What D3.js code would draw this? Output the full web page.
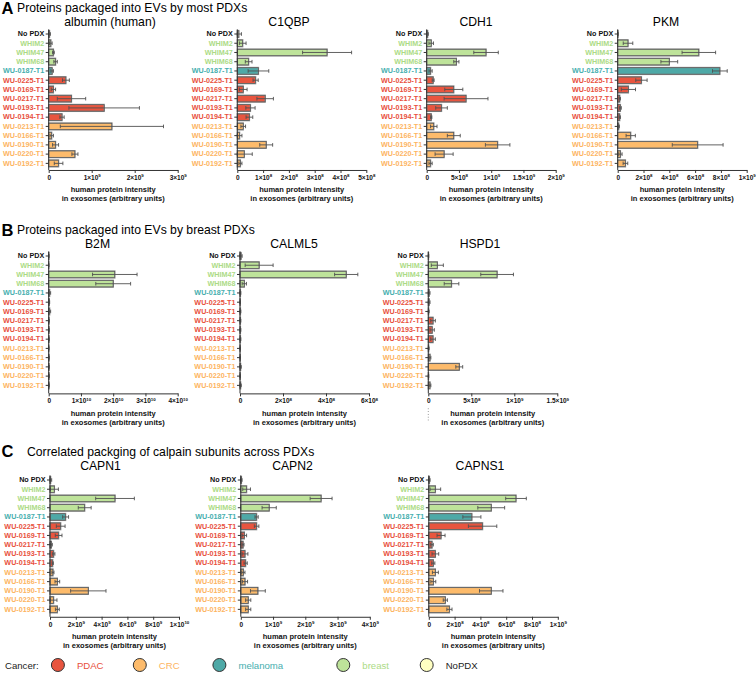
<!DOCTYPE html>
<html><head><meta charset="utf-8">
<script src="https://cdn.jsdelivr.net/npm/d3@7"></script>
<style>body{margin:0;background:#fff} svg{display:block;font-family:Arial,"Liberation Sans",sans-serif}</style>
</head><body><svg id="c" width="756" height="675"></svg>
<script>
// ---------- data ----------
const categories = ["No PDX","WHIM2","WHIM47","WHIM68","WU-0187-T1","WU-0225-T1","WU-0169-T1","WU-0217-T1","WU-0193-T1","WU-0194-T1","WU-0213-T1","WU-0166-T1","WU-0190-T1","WU-0220-T1","WU-0192-T1"];
const categoryCancer = ["NoPDX","breast","breast","breast","melanoma","PDAC","PDAC","PDAC","PDAC","PDAC","CRC","CRC","CRC","CRC","CRC"];
const cancerTypes = ["PDAC","CRC","melanoma","breast","NoPDX"];
const proteinNames = ["albumin (human)","C1QBP","CDH1","PKM","B2M","CALML5","HSPD1","CAPN1","CAPN2","CAPNS1"];
const valueUnit = [1e9,1e8,1e9,1e8,1e10,1e8,1e9,1e9,1e9,1e8];   // values below are in these units
const axisMax   = [3,5,2,10,4,6,1.5,10,4,10];
const tickStep  = [1,1,0.5,2,1,2,0.5,2,1,2];
const sectionTitles = ["Proteins packaged into EVs by most PDXs","Proteins packaged into EVs by breast PDXs","Correlated packging of calpain subunits across PDXs"];
const sectionLetters = ["A","B","C"];
const xAxisLabel = ["human protein intensity","in exosomes (arbitrary units)"];

const albuminMean = [0.02,0.05,0.11,0.16,0.08,0.40,0.11,0.53,1.29,0.31,1.47,0.07,0.16,0.61,0.23];
const albuminSD   = [0.02,0.03,0.02,0.04,0.03,0.08,0.05,0.33,0.82,0.05,1.2,0.04,0.07,0.07,0.1];
const c1qbpMean = [0.06,0.21,3.48,0.44,0.82,0.71,0.23,1.08,0.51,0.47,0.23,0.09,1.12,0.27,0.12];
const c1qbpSD   = [0.1,0.13,0.95,0.13,0.4,0.1,0.15,0.32,0.18,0.13,0.09,0.09,0.25,0.31,0.06];
const cdh1Mean = [0.015,0.07,0.92,0.46,0.06,0.10,0.42,0.61,0.23,0.07,0.11,0.42,1.10,0.27,0.06];
const cdh1SD   = [0.01,0.035,0.19,0.04,0.025,0.015,0.14,0.34,0.09,0.01,0.05,0.10,0.19,0.14,0.025];
const pkmMean = [0.02,0.8,6.29,4.0,7.92,1.84,0.83,0.16,0.21,0.16,0.08,1.01,6.2,0.21,0.6];
const pkmSD   = [0.02,0.37,1.3,0.65,0.57,0.44,0.55,0.05,0.07,0.05,0.05,0.36,1.97,0.13,0.18];
const b2mMean = [0.005,0.003,2.05,2.0,0.03,0.02,0.03,0.01,0.01,0.01,0.005,0.01,0.01,0.01,0.01];
const b2mSD   = [0.005,0.003,0.69,0.54,0.03,0.01,0.03,0.005,0.005,0.005,0.003,0.005,0.005,0.01,0.005];
const calml5Mean = [0.05,0.89,4.94,0.2,0.02,0.01,0.02,0.02,0.02,0.02,0.01,0.01,0.03,0.01,0.03];
const calml5SD   = [0.05,0.65,0.54,0.1,0.02,0.01,0.02,0.02,0.02,0.02,0.01,0.01,0.03,0.01,0.03];
const hspd1Mean = [0.003,0.105,0.8,0.27,0.01,0.01,0.005,0.055,0.045,0.055,0.005,0.02,0.36,0.003,0.02];
const hspd1SD   = [0.003,0.07,0.19,0.085,0.01,0.01,0.005,0.027,0.025,0.027,0.005,0.01,0.04,0.003,0.01];
const capn1Mean = [0.05,0.34,5.04,2.69,1.21,0.83,0.67,0.10,0.28,0.21,0.23,0.57,2.97,0.28,0.57];
const capn1SD   = [0.08,0.31,1.5,0.5,0.23,0.34,0.26,0.08,0.1,0.05,0.08,0.18,1.37,0.26,0.15];
const capn2Mean = [0.02,0.18,2.49,0.88,0.49,0.49,0.11,0.07,0.13,0.15,0.08,0.13,0.53,0.23,0.23];
const capn2SD   = [0.02,0.12,0.34,0.22,0.05,0.07,0.07,0.03,0.09,0.05,0.05,0.08,0.23,0.08,0.08];
const capns1Mean = [0.05,0.51,6.76,4.84,3.34,4.17,0.95,0.25,0.51,0.35,0.51,0.35,4.84,1.28,1.6];
const capns1SD   = [0.05,0.41,0.8,1.04,0.7,1.1,0.31,0.1,0.26,0.12,0.23,0.19,0.91,0.16,0.2];

const meanSeries = [albuminMean,c1qbpMean,cdh1Mean,pkmMean,b2mMean,calml5Mean,hspd1Mean,capn1Mean,capn2Mean,capns1Mean];
const sdSeries   = [albuminSD,c1qbpSD,cdh1SD,pkmSD,b2mSD,calml5SD,hspd1SD,capn1SD,capn2SD,capns1SD];

// ---------- styling / layout ----------
const fillColor  = {PDAC:"#E8553F", CRC:"#FDBB6B", melanoma:"#4EA9A7", breast:"#BEE39A", NoPDX:"#FFFFC2"};
const labelColor = {PDAC:"#E8503C", CRC:"#FDB45F", melanoma:"#45AEAE", breast:"#ACDB85", NoPDX:"#111"};
const panelX0    = [48.7,237.3,426.7,617.7, 48.7,240,428.3, 50,240.8,428.8];
const panelRow   = [0,0,0,0, 1,1,1, 2,2,2];
const panelTitleX= [110,289,476,666, 97.5,294,480, 100.5,292.5,480];
const rowFirstY  = [34,256,480];
const rowAxisGap = [2,3.4,2.8];
const rowSectionY= [12,234,455.5];
const rowLetterY = [13.5,235.5,457];
const rowSectionX= [17,17,27];
const rowSubY    = [25.5,248,470];
const axisLen = 129, rowStep = 9.24;

const svg = d3.select("#c");
const fmtMant = m => (Math.round(m*10)/10).toString();

// section titles
sectionLetters.forEach((L,i)=>{
  svg.append("text").attr("x",1.5).attr("y",rowLetterY[i]).attr("font-size",16.5).attr("font-weight","bold").text(L);
  svg.append("text").attr("x",rowSectionX[i]).attr("y",rowSectionY[i]).attr("font-size",12.2).text(sectionTitles[i]);
});

proteinNames.forEach((name,p)=>{
  const r = panelRow[p], x0 = panelX0[p];
  const top = rowFirstY[r] - rowStep/2;
  const y = d3.scaleBand().domain(categories).range([top, top + categories.length*rowStep]).paddingInner(0.25).paddingOuter(0.125);
  const axisY = top + categories.length*rowStep + rowAxisGap[r];
  const x = d3.scaleLinear().domain([0, axisMax[p]]).range([x0, x0+axisLen]);
  const g = svg.append("g");
  const data = categories.map((c,i)=>({c, cancer:categoryCancer[i], m:meanSeries[p][i], sd:sdSeries[p][i]}));

  // subtitle
  g.append("text").attr("x",panelTitleX[p]).attr("y",rowSubY[r]).attr("text-anchor","middle").attr("font-size",12.2).text(name);

  // bars
  g.selectAll("rect.bar").data(data).join("rect").attr("class","bar")
    .attr("x", x(0)).attr("y", d=>y(d.c)).attr("height", y.bandwidth())
    .attr("width", d=>Math.max(0, x(d.m)-x(0)))
    .attr("fill", d=>fillColor[d.cancer]).attr("stroke","#8a8a8a").attr("stroke-width",1.3);
  g.selectAll("rect.bar2").data(data).join("rect").attr("class","bar2")
    .attr("x", x(0)).attr("y", d=>y(d.c)+0.3).attr("height", y.bandwidth()-0.6)
    .attr("width", d=>Math.max(0, x(d.m)-x(0)))
    .attr("fill","none").attr("stroke","#4a4a4a").attr("stroke-width",0.5);

  // error bars
  const eb = g.selectAll("g.eb").data(data).join("g").attr("class","eb")
    .attr("stroke","#505050").attr("stroke-width",0.9);
  const cy = d=>y(d.c)+y.bandwidth()/2;
  const lo = d=>x(Math.max(0,d.m-d.sd)), hi = d=>x(d.m+d.sd);
  eb.append("line").attr("x1",lo).attr("x2",hi).attr("y1",cy).attr("y2",cy);
  eb.append("line").attr("x1",hi).attr("x2",hi).attr("y1",d=>cy(d)-1.8).attr("y2",d=>cy(d)+1.8);
  eb.append("line").attr("x1",lo).attr("x2",lo).attr("y1",d=>cy(d)-1.8).attr("y2",d=>cy(d)+1.8);

  // y axis
  const ya = g.append("g").attr("transform",`translate(${x0},0)`)
    .call(d3.axisLeft(y).tickSize(3).tickPadding(1.5).tickSizeOuter(0));
  ya.select(".domain").remove();
  ya.append("line").attr("x1",0).attr("x2",0).attr("y1",top).attr("y2",axisY).attr("stroke","#333").attr("stroke-width",1);
  ya.selectAll(".tick line").attr("stroke","#333");
  ya.selectAll(".tick text").attr("font-size",7.2).attr("font-weight","bold").attr("font-family","Arial, 'Liberation Sans', sans-serif")
    .attr("fill",(d,i)=>labelColor[categoryCancer[i]]);

  // x axis
  const ticks = d3.range(0, axisMax[p]+1e-9, tickStep[p]);
  const xa = g.append("g").attr("transform",`translate(0,${axisY})`)
    .call(d3.axisBottom(x).tickValues(ticks).tickSize(3).tickSizeOuter(0).tickPadding(2.5));
  xa.select(".domain").attr("stroke","#333");
  xa.selectAll(".tick line").attr("stroke","#333");
  xa.selectAll(".tick text").each(function(t){
    const el = d3.select(this).text(null).attr("font-size",6.5).attr("font-weight","bold")
      .attr("font-family","Arial, 'Liberation Sans', sans-serif").attr("fill","#111");
    if (t===0){ el.text("0"); return; }
    const v = t*valueUnit[p];
    const e = Math.floor(Math.log10(v)+1e-9);
    const m = v/Math.pow(10,e);
    el.append("tspan").text(fmtMant(m)+"×10");
    el.append("tspan").attr("font-size",4.4).attr("dy",-2.6).text(e);
  });

  // x axis label
  xAxisLabel.forEach((t,k)=>{
    g.append("text").attr("x",x0+axisLen/2).attr("y",axisY+22.5+k*8.8).attr("text-anchor","middle")
      .attr("font-size",7.5).attr("font-weight","bold").attr("fill","#111").text(t);
  });

  if (name==="HSPD1"){
    g.append("line").attr("x1",x0).attr("x2",x0).attr("y1",axisY+15).attr("y2",axisY+28)
      .attr("stroke","#666").attr("stroke-width",0.8).attr("stroke-dasharray","0.8,2");
  }
});

// legend
const legendCircleX = [57.9,139.8,219.4,343.3,426.7];
const legY = 665;
svg.append("text").attr("x",5).attr("y",legY+3.5).attr("font-size",9.6).attr("fill","#222").text("Cancer:");
cancerTypes.forEach((c,i)=>{
  svg.append("circle").attr("cx",legendCircleX[i]).attr("cy",legY).attr("r",6.5)
    .attr("fill",fillColor[c]).attr("stroke","#333").attr("stroke-width",1);
  svg.append("text").attr("x",legendCircleX[i]+19).attr("y",legY+3.5).attr("font-size",9.6)
    .attr("fill", c==="NoPDX" ? "#222" : labelColor[c]).text(c);
});
</script></body></html>
